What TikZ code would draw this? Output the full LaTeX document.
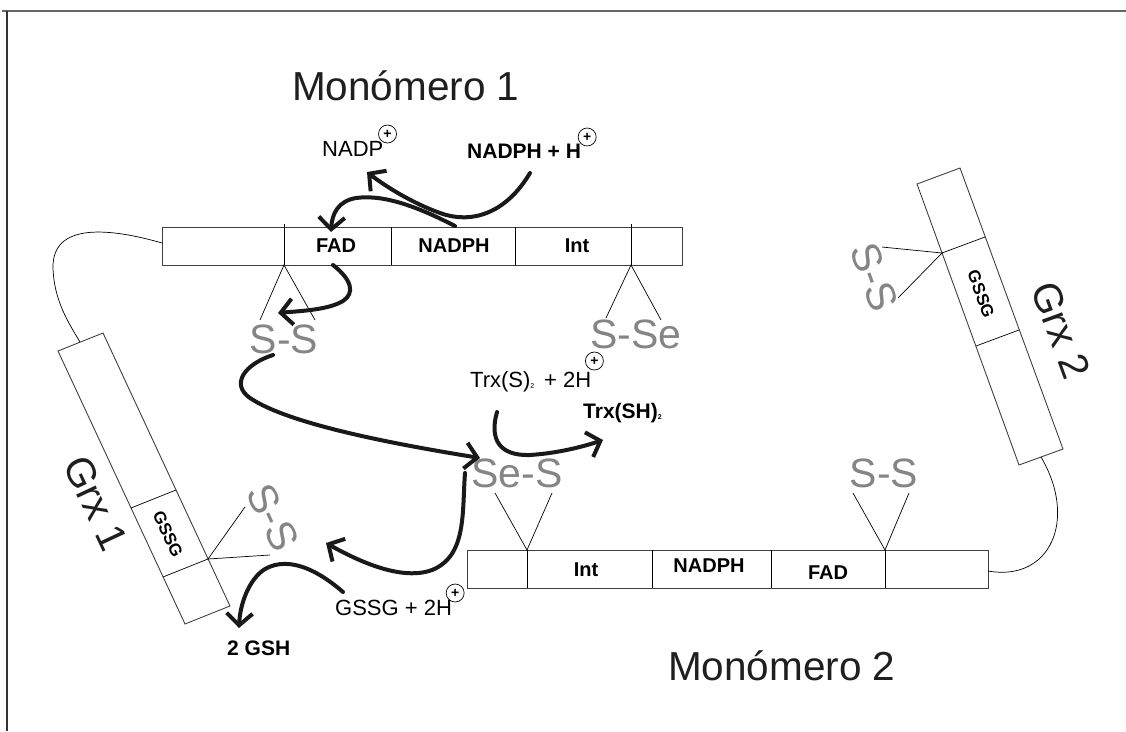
\documentclass[tikz,border=0pt]{standalone}
\usepackage{fontspec}
\setmainfont{Liberation Sans}
\usetikzlibrary{arrows.meta,calc}
\begin{document}
\begin{tikzpicture}[x=1pt,y=-1pt,
  boxline/.style={draw=black!75, line width=0.9pt},
  thinline/.style={draw=black, line width=0.7pt},
  inlbl/.style={font=\bfseries\fontsize{20}{20}\selectfont},
  big/.style={font=\fontsize{40.5}{40.5}\selectfont, text=black!88},
  ssl/.style={font=\fontsize{41}{41}\selectfont, text=black!48},
  small/.style={font=\fontsize{22}{22}\selectfont, anchor=base west, inner sep=0pt},
  smallb/.style={font=\bfseries\fontsize{21}{21}\selectfont, anchor=base west, inner sep=0pt},
  cplus/.style={circle, draw, line width=0.7pt, inner sep=0pt, minimum size=18pt, font=\bfseries\fontsize{14}{14}\selectfont},
  flow/.style={line width=4pt, line cap=round, line join=round, black!90,
    -{Straight Barb[length=12pt,width=26pt,line width=4pt]}}
]
\useasboundingbox (0,0) rectangle (1126,731);
% frame
\draw[black!60, line width=2pt] (2,11) -- (1126,11);
\draw[black!80, line width=1.3pt] (7,11) -- (7,731);

% ---------- Monomer 1 box ----------
\draw[boxline] (162,227) rectangle (682,265);
\foreach \x in {391,515} \draw[thinline] (\x,227) -- (\x,265);
\draw[thinline] (284,224) -- (284,265);
\draw[thinline] (631,224) -- (631,265);
\node[inlbl] (fad1) at (336,246) {FAD};
\node[inlbl] (nad1) at (454,246) {NADPH};
\node[inlbl] (int1) at (577,246) {Int};

% ---------- Monomer 2 box ----------
\draw[boxline] (467,550) rectangle (988,588);
\foreach \x in {527,652,771,885} \draw[thinline] (\x,550) -- (\x,588);
\node[inlbl] (int2) at (586,570) {Int};
\node[inlbl] (nad2) at (709,566) {NADPH};
\node[inlbl] (fad2) at (828,573) {FAD};

% ---------- Grx 1 ----------
\draw[boxline] (58,351) -- (103,333) -- (230,606) -- (185,624) -- cycle;
\draw[thinline] (131,508) -- (176,490);
\draw[thinline] (163,577) -- (208,559);
\node[font=\bfseries\fontsize{17}{17}\selectfont, rotate=-65] (gssg1) at (168,534) {GSSG};
\node[big, rotate=-65] (grx1) at (96,503) {Grx 1};

% ---------- Grx 2 ----------
\draw[boxline] (917,184) -- (960,168) -- (1063,449) -- (1019,465) -- cycle;
\draw[thinline] (942,253) -- (985,237);
\draw[thinline] (976,346) -- (1019,330);
\node[font=\bfseries\fontsize{17}{17}\selectfont, rotate=-70] (gssg2) at (981,294) {GSSG};
\node[big, rotate=-70] (grx2) at (1061,330) {Grx 2};

% ---------- linkers ----------
\draw[thinline] (162,243) .. controls (110,228) and (52,222) .. (53,268)
  .. controls (54,300) and (68,322) .. (80,342);
\draw[thinline] (988,571) .. controls (1050,582) and (1078,520) .. (1041,457);

% ---------- disulfide labels ----------
\draw[thinline] (260,320) -- (284,265) -- (315,320);
\node[ssl, anchor=base, inner sep=0pt] (ss1) at (284,353) {S-S};
\draw[thinline] (606,318) -- (631,265) -- (661,320);
\node[ssl, anchor=base, inner sep=0pt] (sse1) at (636,348) {S-Se};
\draw[thinline] (495,493) -- (527,550) -- (552,493);
\node[ssl, anchor=base, inner sep=0pt] (ses2) at (517,487) {Se-S};
\draw[thinline] (853,493) -- (885,550) -- (909,493);
\node[ssl, anchor=base, inner sep=0pt] (ss2) at (884,487) {S-S};
\draw[thinline] (245,507) -- (208,559) -- (270,555);
\node[ssl, rotate=-65] (ssg1) at (273,517) {S-S};
\draw[thinline] (882,247) -- (942,253) -- (898,298);
\node[ssl, rotate=-70] (ssg2) at (874,277) {S-S};

% ---------- titles ----------
\node[big, anchor=base west, inner sep=0pt] (m1) at (292,100) {Monómero 1};
\node[big, anchor=base west, inner sep=0pt] (m2) at (668,680) {Monómero 2};

% ---------- small labels ----------
\node[small] (nadp) at (322,156) {NADP};
\node[cplus] (p1) at ($(nadp.base east)+(4,-22)$) {+};
\node[smallb] (nadph) at (467,158) {NADPH + H};
\node[cplus] (p2) at ($(nadph.base east)+(6,-21)$) {+};
\node[small] (trxs) at (470,387) {Trx(S)\raisebox{-1pt}{\fontsize{7}{7}\selectfont 2} \,+ 2H};
\node[cplus] (p3) at ($(trxs.base east)+(3,-26)$) {+};
\node[smallb] (trxsh) at (583,418) {Trx(SH)\raisebox{-1pt}{\fontsize{7}{7}\selectfont 2}};
\node[small] (gssg) at (335,615) {GSSG + 2H};
\node[cplus] (p4) at ($(gssg.base east)+(3,-22)$) {+};
\node[smallb] (gsh) at (227,655) {2 GSH};

% ---------- electron flow arrows ----------
\coordinate (aS) at (530,173);
\coordinate (aE) at (367,172);
\draw[flow] (aS) .. controls (505,215) and (470,224) .. (440,213)
   .. controls (412,203) and (385,186) .. (aE);
\coordinate (bS) at (455,226);
\coordinate (bE) at (331,232);
\draw[flow] (bS) .. controls (420,208) and (385,194) .. (356,198)
   .. controls (338,201) and (332,214) .. (bE);
\coordinate (cS) at (333,265);
\coordinate (cE) at (278,313);
\draw[flow] (cS) .. controls (352,280) and (355,293) .. (343,301)
   .. controls (328,310) and (300,311) .. (cE);
\coordinate (dS) at (273,355);
\coordinate (dE) at (480,458);
\draw[flow] (dS) .. controls (245,364) and (230,384) .. (250,398)
   .. controls (290,425) and (400,445) .. (dE);
\coordinate (eS) at (465,473);
\coordinate (eE) at (326,543);
\draw[flow] (eS) .. controls (462,512) and (467,556) .. (432,570)
   .. controls (402,581) and (360,562) .. (eE);
\coordinate (fS) at (343,592);
\coordinate (fE) at (239,628);
\draw[flow] (fS) .. controls (320,572) and (290,555) .. (265,569)
   .. controls (249,579) and (240,604) .. (fE);
\coordinate (gS) at (497,412);
\coordinate (gE) at (603,440);
\draw[flow] (gS) .. controls (489,440) and (500,456) .. (530,455)
   .. controls (560,453) and (585,446) .. (gE);
\end{tikzpicture}
\end{document}
